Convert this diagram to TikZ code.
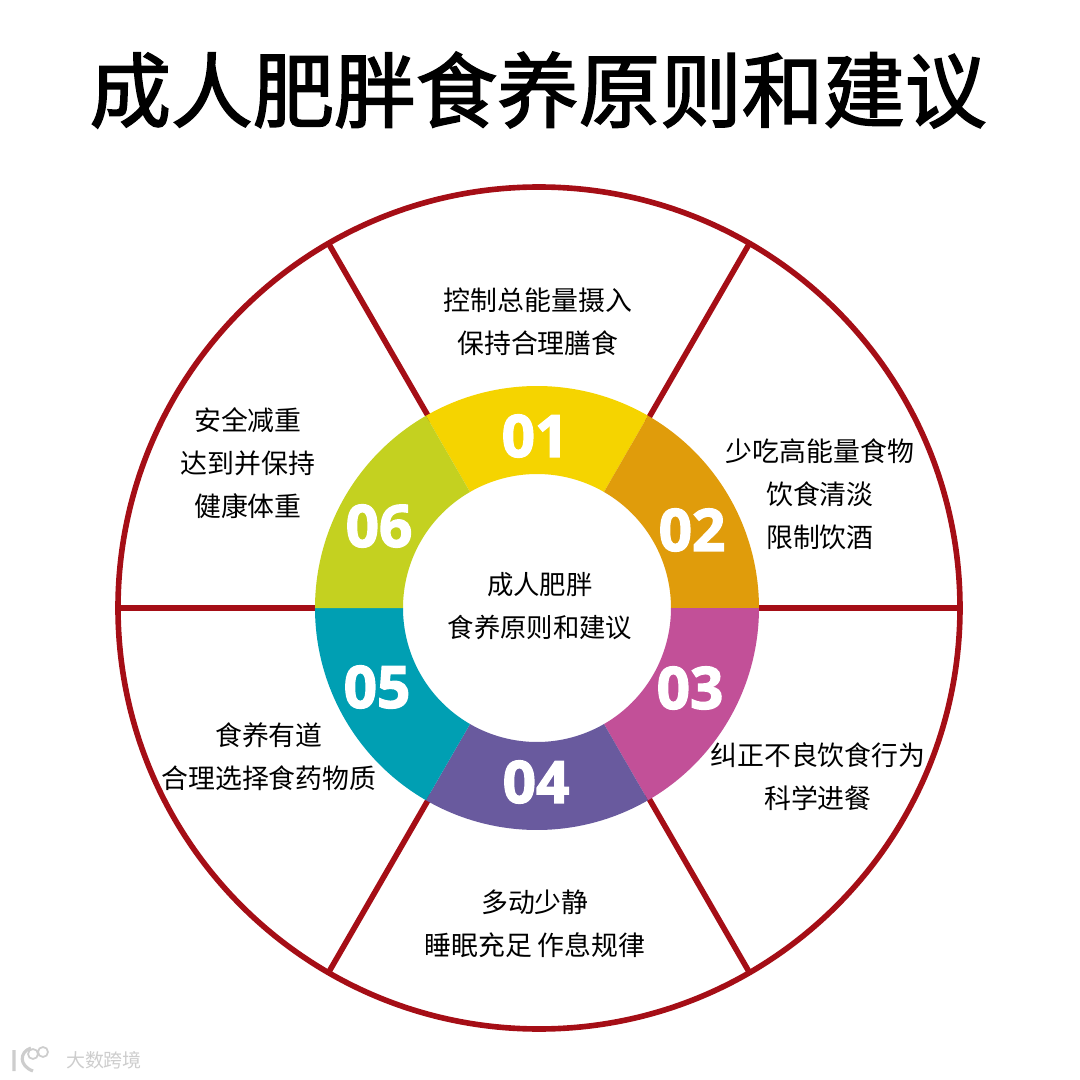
\documentclass[tikz,border=0pt]{standalone}
\usepackage{fontspec}
\setmainfont{Noto Sans CJK SC}
\newfontfamily\titlefont[FakeBold=2]{Noto Sans CJK SC}
\newfontfamily\numfont[FakeBold=2.4]{Open Sans Bold}
\usetikzlibrary{positioning}
\definecolor{rimred}{RGB}{165,14,22}
\definecolor{segyellow}{RGB}{245,212,0}
\definecolor{segorange}{RGB}{224,156,11}
\definecolor{segpink}{RGB}{194,80,152}
\definecolor{segpurple}{RGB}{105,90,158}
\definecolor{segteal}{RGB}{0,159,179}
\definecolor{seglime}{RGB}{196,209,32}
\definecolor{markgray}{RGB}{205,205,205}

\begin{document}
\begin{tikzpicture}[x=0.1mm, y=0.1mm,
					rim/.style={draw=rimred, line width=1.6pt},
					bodytext/.style={align=center, inner sep=0pt, font=\fontsize{7.65}{12.2}\selectfont},
					segnum/.style={text=white, inner sep=0pt, font=\fontsize{16.6}{17}\numfont}]
					% Bildbereich
					\useasboundingbox (0,0) rectangle (1080,1080);
					\node[inner sep=0pt, font=\fontsize{23.2}{26}\titlefont] (title) at (538,990) {成人肥胖食养原则和建议};
					% Speichen und Rand
					\begin{scope}[shift={(539,472)}]
						\draw[rim] (0,0) circle (421);
						\foreach \a in {0,60,...,300} \draw[rim] (\a:215) -- (\a:421);
					\end{scope}
					% Ringsegmente
					\begin{scope}[shift={(537,472)}]
						\foreach \a/\c in {60/segyellow,0/segorange,-60/segpink,-120/segpurple,-180/segteal,-240/seglime}
							\fill[\c] (\a:222) arc[start angle=\a, delta angle=60, radius=222] -- (\a+60:134) arc[start angle=\a+60, delta angle=-60, radius=134] -- cycle;
					\end{scope}
					% Nummern
					\node[segnum] (n1) at (535,644) {01};
					\node[segnum] (n2) at (692,550) {02};
					\node[segnum] (n3) at (690,392) {03};
					\node[segnum] (n4) at (536,298) {04};
					\node[segnum] (n5) at (377,393) {05};
					\node[segnum] (n6) at (379,554) {06};
					% Beschriftung
					\node[bodytext, font=\fontsize{7.5}{12.2}\selectfont] (hub) at (540,474) {成人肥胖\\食养原则和建议};
					\node[bodytext] (t1) at (538,758) {控制总能量摄入\\保持合理膳食};
					\node[bodytext] (t2) at (820,586) {少吃高能量食物\\饮食清淡\\限制饮酒};
					\node[bodytext] (t3) at (818,303) {纠正不良饮食行为\\科学进餐};
					\node[bodytext] (t4) at (535,156) {多动少静\\睡眠充足 作息规律};
					\node[bodytext] (t5) at (269,323) {食养有道\\合理选择食药物质};
					\node[bodytext] (t6) at (248,617) {安全减重\\达到并保持\\健康体重};
					% Wasserzeichen
					\node[text=markgray, inner sep=0pt, font=\fontsize{5.4}{6}\selectfont] (mark) at (104,20) {大数跨境};
					\draw[markgray, line width=0.9pt] (14,9) -- (14,30) (31,32) .. controls (19,28) and (19,14) .. (33,9);
					\draw[markgray, line width=0.5pt] (33,26) circle (5) (43,28) circle (5);
				\end{tikzpicture}
\end{document}
